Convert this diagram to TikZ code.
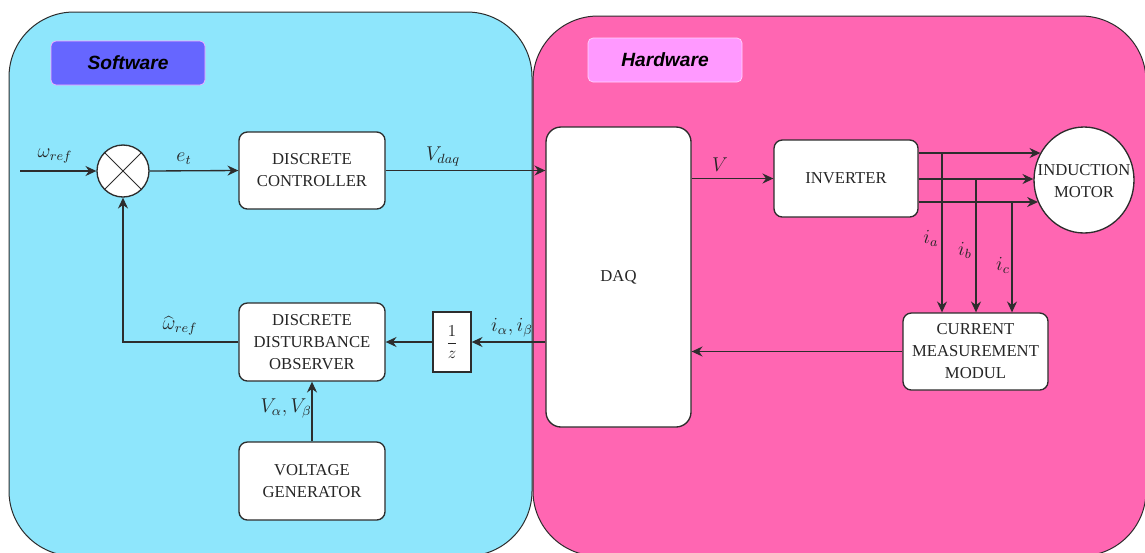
\documentclass[tikz,border=0pt]{standalone}
\usepackage{fontspec}
\setmainfont{Liberation Serif}
\newfontfamily\tagfont{Liberation Sans}
\usetikzlibrary{arrows.meta,shapes.geometric}

\definecolor{swfill}{RGB}{142,230,252}
\definecolor{hwfill}{RGB}{255,102,178}
\definecolor{swtagfill}{RGB}{102,102,255}
\definecolor{hwtagfill}{RGB}{255,153,255}
\definecolor{ink}{RGB}{45,45,45}

\begin{document}
\begin{tikzpicture}[x=0.6pt,y=-0.6pt,
    panel/.style={draw=ink, line width=0.6pt, rounded corners=39pt},
    tag/.style={rounded corners=3pt, inner sep=0pt, minimum width=92.4pt, minimum height=26.4pt,
      font=\tagfont\fontsize{11.5}{14}\selectfont\bfseries\itshape},
    block/.style={draw=ink, fill=white, line width=0.8pt, rounded corners=5pt, align=center,
      inner sep=0pt, text=black!85, font=\fontsize{10}{13.2}\selectfont},
    wire/.style={line width=0.8pt, draw=ink},
    sig/.style={wire, -{Stealth[length=6.5pt,width=6pt]}},
    lbl/.style={text=black!85, font=\fontsize{11.5}{13}\selectfont}]
    \useasboundingbox (0,0) rectangle (1145,552);
    \clip (0,0) rectangle (1145,552);
    \fill[white] (0,0) rectangle (1145,552);

    \draw[panel, fill=swfill] (9,12) rectangle (532,556);
    \draw[panel, fill=hwfill] (533,16) rectangle (1146,556);

    \node[tag, fill=swtagfill, draw=hwtagfill!80] (swtag) at (128,63) {Software};
    \node[tag, fill=hwtagfill, draw=white!60!hwtagfill] (hwtag) at (665,60) {Hardware};

    \node[circle, draw=ink, fill=white, line width=0.8pt, minimum size=31.2pt, inner sep=0pt] (sum) at (123,171) {};
    \draw[wire, line width=0.6pt] (sum.north west) -- (sum.south east) (sum.north east) -- (sum.south west);

    \node[block, minimum width=87.6pt, minimum height=46.2pt] (ctrl) at (312,170.5) {DISCRETE\\CONTROLLER};
    \node[block, minimum width=87.6pt, minimum height=46.8pt] (obs) at (312,342) {DISCRETE\\DISTURBANCE\\OBSERVER};
    \node[block, minimum width=87.6pt, minimum height=46.8pt] (volt) at (312,481) {VOLTAGE\\GENERATOR};
    \node[block, rounded corners=0pt, minimum width=22.8pt, minimum height=36pt] (delay) at (452,342) {$\displaystyle\frac{1}{z}$};

    \node[block, rounded corners=9pt, minimum width=87pt, minimum height=180pt] (daq) at (618.5,277) {DAQ};
    \node[block, minimum width=86.4pt, minimum height=46.2pt] (inv) at (846,178.5) {INVERTER};
    \node[block, minimum width=87pt, minimum height=46.2pt] (cmm) at (975.5,351.5) {CURRENT\\MEASUREMENT\\MODUL};
    \node[ellipse, draw=ink, fill=white, line width=0.8pt, minimum width=60pt, minimum height=63.6pt, inner sep=0pt] (motor) at (1084,180) {};
    \node[block, draw=none, fill=none] (motortxt) at (1084,181) {INDUCTION\\MOTOR};

    \coordinate (wref) at (20,171);
    \coordinate (pa) at (942,153);
    \coordinate (pb) at (976,179);
    \coordinate (pc) at (1012,202);

    \node[lbl] (wreflbl) at (55,156) {$\omega_{ref}$};
    \node[lbl] (etlbl) at (184,159) {$e_t$};
    \node[lbl] (vdaqlbl) at (443,156) {$V_{daq}$};
    \node[lbl] (whatlbl) at (180,326) {$\widehat{\omega}_{ref}$};
    \node[lbl] (iablbl) at (512,328) {$i_\alpha, i_\beta$};
    \node[lbl] (vablbl) at (286,408) {$V_\alpha, V_\beta$};
    \node[lbl] (vlbl) at (720,165) {$V$};
    \node[lbl] (ialbl) at (931,238) {$i_a$};
    \node[lbl] (iblbl) at (965,250) {$i_b$};
    \node[lbl] (iclbl) at (1003,265) {$i_c$};

    \draw[sig] (wref) -- (sum.west);
    \draw[sig] (sum.east) -- (ctrl.west);
    \draw[sig] (ctrl.east) -- (ctrl.east -| daq.west);
    \draw[sig] (daq.east |- inv.west) -- (inv.west);
    \draw[sig] (inv.east |- pa) -- (pa -| motor.148);
    \draw[sig] (inv.east |- pb) -- (pb -| motor.west);
    \draw[sig] (inv.east |- pc) -- (pc -| motor.206);
    \draw[sig] (pa) -- (pa |- cmm.north);
    \draw[sig] (pb) -- (pb |- cmm.north);
    \draw[sig] (pc) -- (pc |- cmm.north);
    \draw[sig] (cmm.west) -- (cmm.west -| daq.east);
    \draw[sig] (daq.west |- delay.east) -- (delay.east);
    \draw[sig] (delay.west) -- (obs.east);
    \draw[sig] (obs.west) -| (sum.south);
    \draw[sig] (volt.north) -- (obs.south);
\end{tikzpicture}
\end{document}
